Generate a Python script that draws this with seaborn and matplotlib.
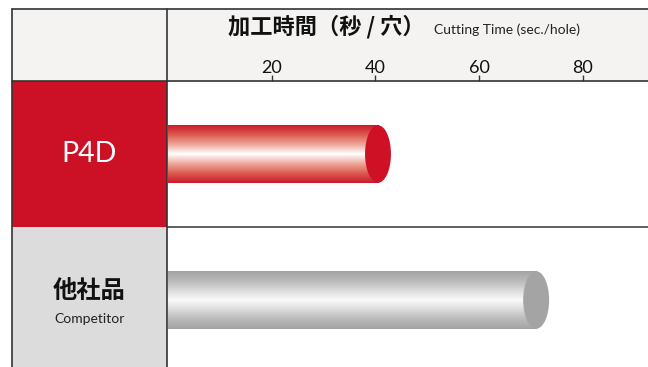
import numpy as np
import pandas as pd
import matplotlib
matplotlib.use('Agg')
import matplotlib.pyplot as plt
import seaborn as sns
from matplotlib.colors import LinearSegmentedColormap
from matplotlib.patches import Ellipse, Rectangle
from matplotlib.lines import Line2D

# data
products = ['P4D', '他社品']
subtitles = ['', 'Competitor']
times = [40.5, 71.0]
xticks = [20, 40, 60, 80]
title_jp = '加工時間（秒 / 穴）'
title_en = 'Cutting Time (sec./hole)'

sns.set_theme(style='white')
plt.rcParams['font.family'] = ['Lato', 'Noto Sans CJK JP', 'DejaVu Sans']

W, H = 648, 367
fig = plt.figure(figsize=(W / 100, H / 100), dpi=100)

def fx(px):
    return px / W

def fy(py):
    return 1 - py / H

# header background
bg = fig.add_axes([0, 0, 1, 1])
bg.set_xlim(0, W)
bg.set_ylim(H, 0)
bg.axis('off')
bg.add_patch(Rectangle((12, 9), W - 12, 72, facecolor='#f4f3f1', edgecolor='none'))

# left label column
cell_colors = ['#cc1126', '#dcdcdc']
text_colors = ['white', '#111111']
lab = fig.add_axes([fx(12), 0, fx(155), (H - 81) / H])
lab.set_xlim(0, 1)
lab.set_ylim(1.459, -0.5)
lab.axis('off')
for i, name in enumerate(products):
    lab.axhspan(i - 0.5, i + 0.5, color=cell_colors[i], lw=0)
    if subtitles[i]:
        lab.text(0.5, i - 0.06, name, ha='center', va='center', fontsize=17.5,
                 fontweight='bold', color=text_colors[i], family=['Noto Sans CJK JP'])
        lab.text(0.5, i + 0.13, subtitles[i], ha='center', va='center', fontsize=10,
                 color='#222222')
    else:
        lab.text(0.5, i, name, ha='center', va='center', fontsize=20.5,
                 color=text_colors[i])

# bars
df = pd.DataFrame({'product': products, 'time': times})
ax = fig.add_axes([fx(167), 0, fx(W - 167), (H - 81) / H])
ax.patch.set_alpha(0)
sns.barplot(data=df, x='time', y='product', orient='h', width=0.394,
            color='#cccccc', ax=ax)

red_cmap = LinearSegmentedColormap.from_list(
    'red', ['#cc1a2a', '#dc5a50', '#eea79a', '#ffffff', '#eea79a', '#dc5a50', '#cc1a2a'])
gray_cmap = LinearSegmentedColormap.from_list(
    'gray', ['#a3a3a3', '#b9b9b9', '#dadada', '#fafafa', '#dadada', '#b9b9b9', '#a3a3a3'])
cmaps = [red_cmap, gray_cmap]
cap_colors = ['#cf1126', '#a3a4a3']
grad = np.linspace(0, 1, 256).reshape(-1, 1)

for i, bar in enumerate(ax.patches[:len(products)]):
    x0, y0 = bar.get_x(), bar.get_y()
    w, h = bar.get_width(), bar.get_height()
    im = ax.imshow(grad, cmap=cmaps[i], aspect='auto', extent=(x0, x0 + w, y0 + h, y0),
                   zorder=2, interpolation='bilinear')
    im.set_clip_path(bar)
    bar.set_edgecolor('none')
    ax.add_patch(Ellipse((x0 + w, y0 + h / 2), width=5.0, height=h,
                         facecolor=cap_colors[i], edgecolor='none', zorder=3))

ax.set_aspect('auto')
ax.set_xlim(-0.19, 92.57)
ax.set_ylim(1.459, -0.5)
ax.set_xlabel('')
ax.set_ylabel('')
ax.set_yticks([])
ax.xaxis.tick_top()
ax.set_xticks(xticks)
ax.tick_params(axis='x', direction='out', length=4.5, width=1, color='#333333',
               pad=-1, labelsize=13, labelcolor='#111111')
for s in ax.spines.values():
    s.set_visible(False)
ax.axhline(0.5, color='#444444', lw=1.2, zorder=4)

# table lines
line_kw = dict(color='#333333', lw=1.2, transform=fig.transFigure)
fig.add_artist(Line2D([fx(12), 1], [fy(9), fy(9)], **line_kw))
fig.add_artist(Line2D([fx(12), 1], [fy(81), fy(81)], **line_kw))
fig.add_artist(Line2D([fx(12), fx(12)], [fy(9), 0], **line_kw))
fig.add_artist(Line2D([fx(167), fx(167)], [fy(9), 0], **line_kw))

# header titles
fig.text(fx(228), fy(27), title_jp, ha='left', va='center', fontsize=16,
         fontweight='bold', color='#111111', family=['Noto Sans CJK JP'])
fig.text(fx(434), fy(30), title_en, ha='left', va='center', fontsize=10,
         color='#222222')

fig.savefig('out.png', dpi=100)
